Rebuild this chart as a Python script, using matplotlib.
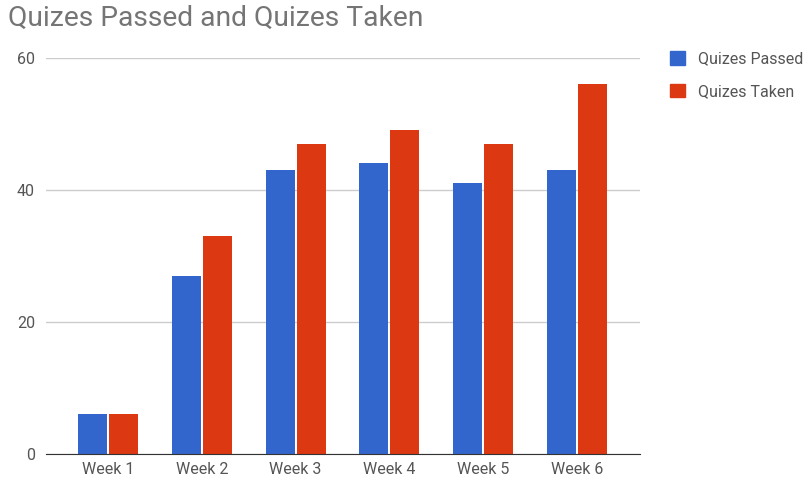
import matplotlib.pyplot as plt
import numpy as np
from matplotlib.patches import Patch

plt.rcParams['font.family'] = ['Roboto', 'DejaVu Sans']

weeks = ['Week 1', 'Week 2', 'Week 3', 'Week 4', 'Week 5', 'Week 6']
passed = [6, 27, 43, 44, 41, 43]
taken = [6, 33, 47, 49, 47, 56]

fig = plt.figure(figsize=(8.12, 4.82), dpi=100)
ax = fig.add_axes([0.0567, 0.058, 0.7313, 0.822])

x = np.arange(len(weeks))
w = 0.31
ax.bar(x - w / 2 - 0.01, passed, w, color='#3366cc')
ax.bar(x + w / 2 + 0.01, taken, w, color='#dc3912')

ax.set_xlim(-0.66, 5.67)
ax.set_ylim(0, 60)
ax.set_yticks([0, 20, 40, 60])
ax.set_xticks(x)
ax.set_xticklabels(weeks)
ax.grid(axis='y', color='#cccccc', linewidth=1)
ax.set_axisbelow(True)
for s in ['top', 'right', 'left']:
    ax.spines[s].set_visible(False)
ax.spines['bottom'].set_color('#333333')
ax.tick_params(length=0, labelsize=11.5, colors='#555555', pad=6)
ax.tick_params(axis='y', pad=8)

fig.text(0.01, 0.962, 'Quizes Passed and Quizes Taken', fontsize=20.3,
         color='#757575', va='center', ha='left')

handles = [Patch(color='#3366cc', label='Quizes Passed'),
           Patch(color='#dc3912', label='Quizes Taken')]
fig.legend(handles=handles, loc='upper left', bbox_to_anchor=(0.81, 0.92),
           frameon=False, fontsize=11.5, labelcolor='#555555',
           handlelength=0.9, handleheight=0.9, handletextpad=0.8,
           labelspacing=1.1, borderpad=0.3)

fig.savefig('out.png', dpi=100)
